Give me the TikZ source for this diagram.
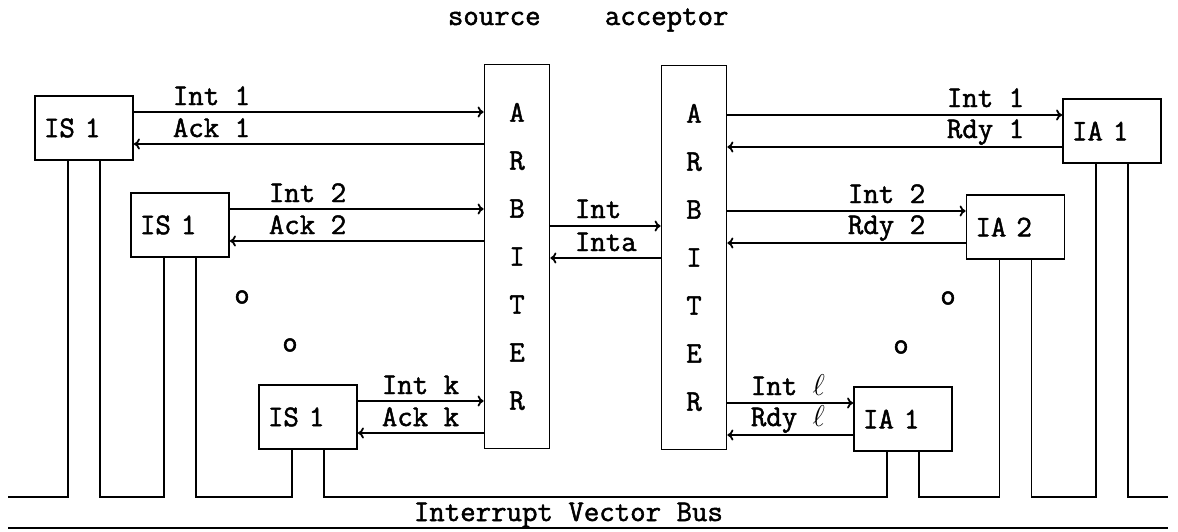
\RequirePackage{fix-cm}
\documentclass[tikz,border=0pt]{standalone}
\usepackage{fontspec}
\setmonofont{Latin Modern Mono}[FakeBold=1.6]
\usetikzlibrary{arrows.meta}
\begin{document}
\begin{tikzpicture}[x=1pt,y=-1pt, line width=1.8pt,
  every node/.style={font=\fontsize{30}{36}\selectfont\ttfamily},
  unit/.style={draw, minimum width=98pt, minimum height=64pt, text width=80pt, align=left, inner sep=0pt},
  arb/.style={draw, minimum width=65pt, minimum height=384pt, align=center, inner sep=0pt, font=\fontsize{30}{48}\selectfont\ttfamily},
  sig/.style={-{To[length=6pt,width=11pt]}},
  lbl/.style={anchor=base west, inner sep=0pt},
  dotmark/.style={inner sep=0pt}]
\useasboundingbox (0,0) rectangle (1178,531);

% titles
\node[lbl] (tsrc) at (447,25) {source};
\node[lbl] (tacc) at (604,25) {acceptor};

% units
\node[unit] (s1) at (84,128) {IS 1};
\node[unit] (s2) at (180,225) {IS 1};
\node[unit] (sk) at (308,417) {IS 1};
\node[unit] (a1) at (1112,131) {IA 1};
\node[unit] (a2) at (1015.5,227) {IA 2};
\node[unit] (al) at (903,419) {IA 1};

% arbiters
\node[arb] (arbL) at (517,256.5) {A\\R\\B\\I\\T\\E\\R};
\node[arb] (arbR) at (694,257.5) {A\\R\\B\\I\\T\\E\\R};

% signal end points on the units
\path ([yshift=16pt]s1.east) coordinate (s1i) ([yshift=-16pt]s1.east) coordinate (s1o)
      ([yshift=16pt]s2.east) coordinate (s2i) ([yshift=-16pt]s2.east) coordinate (s2o)
      ([yshift=16pt]sk.east) coordinate (ski) ([yshift=-16pt]sk.east) coordinate (sko)
      ([yshift=16pt]a1.west) coordinate (a1i) ([yshift=-16pt]a1.west) coordinate (a1o)
      ([yshift=16pt]a2.west) coordinate (a2i) ([yshift=-16pt]a2.west) coordinate (a2o)
      ([yshift=16pt]al.west) coordinate (ali) ([yshift=-16pt]al.west) coordinate (alo);

% source side
\draw[sig] (s1i) -- (s1i -| arbL.west);
\draw[sig] (s1o -| arbL.west) -- (s1o);
\draw[sig] (s2i) -- (s2i -| arbL.west);
\draw[sig] (s2o -| arbL.west) -- (s2o);
\draw[sig] (ski) -- (ski -| arbL.west);
\draw[sig] (sko -| arbL.west) -- (sko);

% acceptor side
\draw[sig] (a1i -| arbR.east) -- (a1i);
\draw[sig] (a1o) -- (a1o -| arbR.east);
\draw[sig] (a2i -| arbR.east) -- (a2i);
\draw[sig] (a2o) -- (a2o -| arbR.east);
\draw[sig] (ali -| arbR.east) -- (ali);
\draw[sig] (alo) -- (alo -| arbR.east);

% between arbiters
\coordinate (mi) at (0,226);
\coordinate (mo) at (0,258);
\draw[sig] (arbL.east |- mi) -- (arbR.west |- mi);
\draw[sig] (arbR.west |- mo) -- (arbL.east |- mo);

% labels
\node[lbl] at (172,105) {Int 1};
\node[lbl] at (172,137) {Ack 1};
\node[lbl] at (268,202) {Int 2};
\node[lbl] at (268,234) {Ack 2};
\node[lbl] at (381,394) {Int k};
\node[lbl] at (381,426) {Ack k};
\node[lbl] at (574,218) {Int};
\node[lbl] at (574,251) {Inta};
\node[lbl] at (946,107) {Int 1};
\node[lbl] at (946,138) {Rdy 1};
\node[lbl] at (847,203) {Int 2};
\node[lbl] at (847,234) {Rdy 2};
\node[lbl] at (750,395) {Int $\ell$};
\node[lbl] at (750,426) {Rdy $\ell$};

% ellipsis marks
\node[dotmark] at (242,297) {o};
\node[dotmark] at (290,345) {o};
\node[dotmark] at (948,298) {o};
\node[dotmark] at (901,347) {o};

% bus stubs
\path ([xshift=-16pt]s1.south) coordinate (s1a) ([xshift=16pt]s1.south) coordinate (s1b)
      ([xshift=-16pt]s2.south) coordinate (s2a) ([xshift=16pt]s2.south) coordinate (s2b)
      ([xshift=-16pt]sk.south) coordinate (ska) ([xshift=16pt]sk.south) coordinate (skb)
      ([xshift=-16pt]al.south) coordinate (ala) ([xshift=16pt]al.south) coordinate (alb)
      ([xshift=-16pt]a2.south) coordinate (a2a) ([xshift=16pt]a2.south) coordinate (a2b)
      ([xshift=-16pt]a1.south) coordinate (a1a) ([xshift=16pt]a1.south) coordinate (a1b);
\coordinate (by) at (0,497);
\coordinate (bl) at (8,497);
\coordinate (br) at (1168,497);
\coordinate (bl2) at (8,528);
\coordinate (br2) at (1168,528);

\draw (bl) -| (s1a);
\draw (s1b) -- (s1b |- by) -| (s2a);
\draw (s2b) -- (s2b |- by) -| (ska);
\draw (skb) -- (skb |- by) -| (ala);
\draw (alb) -- (alb |- by) -| (a2a);
\draw (a2b) -- (a2b |- by) -| (a1a);
\draw (a1b) -- (a1b |- by) -- (br);
\draw (bl2) -- (br2);
\node[lbl] (busl) at (413,521) {Interrupt Vector Bus};
\end{tikzpicture}
\end{document}
